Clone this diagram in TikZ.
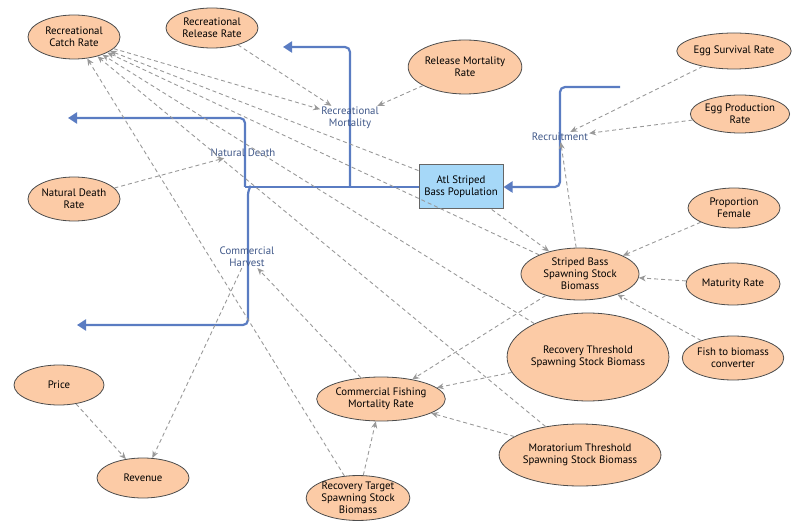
\documentclass[tikz,border=0pt]{standalone}
\usepackage{fontspec}
\setmainfont{PT Sans}
\usetikzlibrary{shapes.geometric,arrows.meta}
\definecolor{peach}{HTML}{FCCBA6}
\definecolor{flowc}{HTML}{5A7CC2}
\definecolor{boxc}{HTML}{A6D8F8}
\definecolor{dgray}{HTML}{999999}
\tikzset{
 aux/.style={ellipse,draw=black!70,fill=peach,line width=0.8pt,align=center,inner sep=0pt,font=\fontsize{10.8}{12}\selectfont},
 flowlbl/.style={text=flowc!70!black,align=center,font=\fontsize{10.8}{12}\selectfont,inner sep=1pt},
 flowline/.style={flowc,line width=2.2pt,rounded corners=5pt},
 flowarrow/.style={flowline,-{Triangle[length=9pt,width=11pt]}},
 link/.style={dgray,dashed,line width=0.9pt,dash pattern=on 4pt off 3pt,-{Stealth[length=7pt,width=6pt]}}
}
\begin{document}
\begin{tikzpicture}[x=1pt,y=-1pt]
\useasboundingbox (0,0) rectangle (800,529);
% stock
\node[draw=black!60,fill=boxc,line width=1pt,minimum width=84pt,minimum height=44pt,align=center,font=\fontsize{10.8}{12}\selectfont] (stock) at (461,187) {Atl Striped\\Bass Population};
% aux
\node[aux,minimum width=92pt,minimum height=44pt] (rcr) at (74,37) {Recreational\\Catch Rate};
\node[aux,minimum width=92pt,minimum height=40pt] (rrr) at (212,28) {Recreational\\Release Rate};
\node[aux,minimum width=106pt,minimum height=54pt] (rmr) at (465,67) {Release Mortality\\Rate};
\node[aux,minimum width=92pt,minimum height=36pt] (esr) at (734,51) {Egg Survival Rate};
\node[aux,minimum width=92pt,minimum height=38pt] (epr) at (740,114) {Egg Production\\Rate};
\node[aux,minimum width=92pt,minimum height=44pt] (ndr) at (74,199) {Natural Death\\Rate};
\node[aux,minimum width=92pt,minimum height=40pt] (pf) at (734,208) {Proportion\\Female};
\node[aux,minimum width=118pt,minimum height=52pt] (ssb) at (580,274) {Striped Bass\\Spawning Stock\\Biomass};
\node[aux,minimum width=94pt,minimum height=42pt] (mat) at (733,284) {Maturity Rate};
\node[aux,minimum width=94pt,minimum height=44pt] (fbc) at (733,358) {Fish to biomass\\converter};
\node[aux,minimum width=140pt,minimum height=88pt] (rts) at (588,357) {Recovery Threshold\\Spawning Stock Biomass};
\node[aux,minimum width=108pt,minimum height=44pt] (cfm) at (381,399) {Commercial Fishing\\Mortality Rate};
\node[aux,minimum width=138pt,minimum height=62pt] (mts) at (580,455) {Moratorium Threshold\\Spawning Stock Biomass};
\node[aux,minimum width=92pt,minimum height=44pt] (rtg) at (358,498) {Recovery Target\\Spawning Stock\\Biomass};
\node[aux,minimum width=90pt,minimum height=40pt] (price) at (59,385) {Price};
\node[aux,minimum width=92pt,minimum height=40pt] (rev) at (143,478) {Revenue};
% flow endpoints
\coordinate (ndE) at (68,118);
\coordinate (rmE) at (283,47);
\coordinate (rcS) at (620,87);
\coordinate (chE) at (77,325);
% flows
\draw[flowline] (stock.west) -- (245,187);
\draw[flowarrow] (245,187) -- (245,118) -- (ndE);
\draw[flowarrow] (350,187) -- (350,47) -- (rmE);
\draw[flowarrow] (rcS) -- (560,87) -- (560,187) -- (stock.east);
\draw[flowarrow] (250,187) -- (248,190) -- (248,325) -- (chE);
% flow labels
\node[flowlbl] (rm) at (350,118) {Recreational\\Mortality};
\node[flowlbl] (nd) at (243,153) {Natural Death};
\node[flowlbl] (rc) at (560,137) {Recruitment};
\node[flowlbl] (ch) at (247,257) {Commercial\\Harvest};
% links
\draw[link] (rrr) -- (rm);
\draw[link] (rmr) -- (rm);
\draw[link] (rcr) -- (rm);
\draw[link] (ndr) -- (nd);
\draw[link] (esr) -- (rc);
\draw[link] (epr) -- (rc);
\draw[link] (ssb) -- (rc);
\draw[link] (stock) -- (ssb);
\draw[link] (pf) -- (ssb);
\draw[link] (mat) -- (ssb);
\draw[link] (fbc) -- (ssb);
\draw[link] (ssb) -- (cfm);
\draw[link] (rts) -- (cfm);
\draw[link] (mts) -- (cfm);
\draw[link] (rtg) -- (cfm);
\draw[link] (cfm) -- (ch);
\draw[link] (ch) -- (rev);
\draw[link] (price) -- (rev);
\draw[link] (ssb) -- (rcr);
\draw[link] (rts) -- (rcr);
\draw[link] (mts) -- (rcr);
\draw[link] (rtg) -- (rcr);
\draw[link] (stock) -- (rcr);
\end{tikzpicture}
\end{document}
